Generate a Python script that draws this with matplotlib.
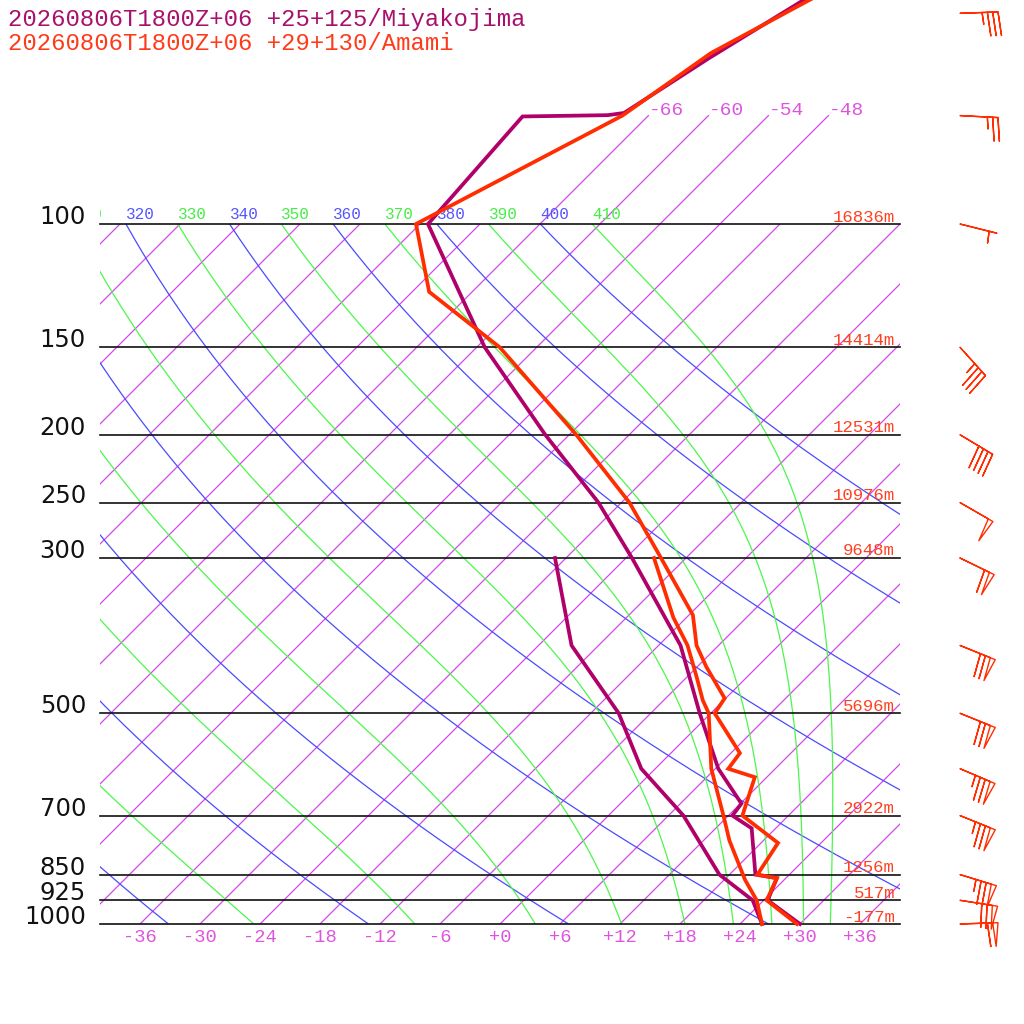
import numpy as np
import matplotlib
matplotlib.use('Agg')
from matplotlib import pyplot as plt
from matplotlib.patches import Rectangle
from matplotlib.transforms import Bbox, TransformedBbox

# --- sounding data (pressure hPa, temperature degC) ---
amami_p = [1000, 925, 860, 850, 766, 700, 617, 600, 570, 500, 476, 429, 400, 362,
           300, 250, 200, 150, 125, 100, 70, 57, 40]
amami_t = [29.7, 24.3, 23.1, 20.8, 19.7, 13.4, 10.8, 7.3, 6.9, 0.4, -0.1, -5.1, -8.2, -11.6,
           -20.5, -29.2, -41.3, -57.7, -70.3, -78.4, -68.6, -66.0, -56.8]
amami_td_p = [1000, 925, 865, 760, 700, 600, 500, 479, 443, 400, 365, 300]
amami_td = [26.2, 23.3, 20.1, 14.6, 11.5, 5.6, -0.2, -2.1, -5.1, -9.1, -13.3, -21.2]

miyako_p = [1000, 925, 860, 850, 730, 700, 673, 600, 500, 400, 300, 250, 200, 150,
            100, 70.2, 69.9, 69.4, 58, 40]
miyako_t = [30.0, 24.4, 23.1, 20.6, 15.6, 12.4, 12.1, 6.3, -1.1, -9.8, -23.4, -32.3, -44.4, -59.2,
            -77.2, -78.5, -70.1, -68.7, -65.7, -58.6]
miyako_td_p = [1000, 925, 850, 700, 600, 500, 400, 300]
miyako_td = [26.2, 22.9, 17.0, 7.5, -1.4, -9.2, -20.7, -31.1]

# wind (Amami)
barb_p = [50, 70, 100, 150, 200, 250, 300, 400, 500, 600, 700, 850, 925, 1000]
barb_dir = [88, 93, 104, 138, 121, 120, 116, 112, 112, 113, 112, 107, 99, 88]
barb_kt = [35, 25, 5, 35, 40, 50, 60, 70, 70, 75, 75, 75, 70, 60]

# standard levels and heights
levels = [100, 150, 200, 250, 300, 500, 700, 850, 925, 1000]
heights = ['16836m', '14414m', '12531m', '10976m', '9648m', '5696m', '2922m', '1256m', '517m', '-177m']

titles = ['20260806T1800Z+06 +25+125/Miyakojima', '20260806T1800Z+06 +29+130/Amami']

MIYAKO = '#b0006a'
AMAMI = '#ff2d00'
PURPLE = '#d248e8'
BLUE = '#4b4bff'
GREEN = '#4cf64c'
SKEW = 30.4
KAPPA = 0.2857
RD, CP, LV, EPS = 287.04, 1005.7, 2.501e6, 0.622
MONO = 'Liberation Mono'


def yy(p):
    return np.log(1000.0 / np.asarray(p, dtype=float))


def xx(t, p):
    return np.asarray(t, dtype=float) + SKEW * yy(p)


def moist_adiabat(theta, pgrid):
    # pseudo-adiabat integrated downward from 100 hPa
    def f(T, p):
        es = 6.112 * np.exp(17.67 * (T - 273.15) / (T - 29.65))
        rs = EPS * es / (p - es)
        return (RD * T + LV * rs) / (CP + LV * LV * rs * EPS / (RD * T * T))
    T = theta * (pgrid[0] / 1000.0) ** KAPPA
    out = [T]
    for i in range(len(pgrid) - 1):
        p0, p1 = pgrid[i], pgrid[i + 1]
        h = np.log(p1) - np.log(p0)
        pm = np.exp(np.log(p0) + h / 2)
        k1 = f(T, p0)
        k2 = f(T + h * k1 / 2, pm)
        k3 = f(T + h * k2 / 2, pm)
        k4 = f(T + h * k3, p1)
        T = T + h * (k1 + 2 * k2 + 2 * k3 + k4) / 6
        out.append(T)
    return np.array(out) - 273.15


fig = plt.figure(figsize=(10.24, 10.24), dpi=100)
ax = fig.add_axes([0, 0, 1, 1])
ax.set_xlim(-50, 52.4)
ax.set_ylim(-100 / 304, 924 / 304)
ax.axis('off')

clip = Rectangle((-40, 0), 80, np.log(10), transform=ax.transData)
tclip = TransformedBbox(Bbox([[-40, -1], [40, 4]]), ax.transData)

pgrid = np.logspace(2, 3, 300)

# isotherms
for t in range(-108, 37, 6):
    ln, = ax.plot(xx([t, t], [1000, 100]), yy([1000, 100]), color=PURPLE, lw=0.9, zorder=1)
    ln.set_clip_path(clip)
for t in [-66, -60, -54, -48]:
    ax.plot(xx([t, t], [100, 70]), yy([100, 70]), color=PURPLE, lw=0.9, zorder=1)
    ax.text(xx(t, 70), yy(70) + 1 / 304, '%d' % t, color='#dd55dd', fontsize=14,
            family=MONO, ha='left', va='baseline')
for t in range(-36, 37, 6):
    ax.text(t, -18 / 304, '%+d' % t if t != 0 else '+0', color='#dd55dd', fontsize=13.5,
            family=MONO, ha='center', va='baseline')

# dry adiabats (blue) and moist adiabats (green)
for th in range(200, 401, 20):
    tt = th * (pgrid / 1000.0) ** KAPPA - 273.15
    ln, = ax.plot(xx(tt, pgrid), yy(pgrid), color=BLUE, lw=0.9, zorder=1)
    ln.set_clip_path(clip)
for th in range(250, 411, 20):
    tt = moist_adiabat(th, pgrid)
    ln, = ax.plot(xx(tt, pgrid), yy(pgrid), color=GREEN, lw=0.9, zorder=1)
    ln.set_clip_path(clip)
# labels at 100 hPa (310 is cut at the left edge of the diagram)
for th in range(310, 411, 10):
    col = '#5555ff' if th % 20 == 0 else '#44ee44'
    t100 = th * 0.1 ** KAPPA - 273.15
    txt = ax.text(xx(t100, 100), yy(100) + 5.5 / 304, str(th), color=col, fontsize=11.5,
                  family=MONO, ha='left', va='baseline', clip_on=True)
    txt.set_clip_box(tclip)

# pressure levels
for p, h in zip(levels, heights):
    ax.plot([-40, 40], [yy(p), yy(p)], color='#111111', lw=1.2, zorder=2)
    ax.text(-41.4, yy(p), str(p), fontsize=17.5, family='DejaVu Sans', color='#111111',
            ha='right', va='baseline')
    ax.text(39.5, yy(p) + 2.5 / 304, h, fontsize=12.5, family=MONO, color='#ff4020',
            ha='right', va='baseline')

# soundings
ax.plot(xx(miyako_t, miyako_p), yy(miyako_p), color=MIYAKO, lw=2.7, zorder=4, solid_joinstyle='miter')
ax.plot(xx(miyako_td, miyako_td_p), yy(miyako_td_p), color=MIYAKO, lw=2.7, zorder=4, solid_joinstyle='miter')
ax.plot(xx(amami_t, amami_p), yy(amami_p), color=AMAMI, lw=2.7, zorder=5, solid_joinstyle='miter')
ax.plot(xx(amami_td, amami_td_p), yy(amami_td_p), color=AMAMI, lw=2.7, zorder=5, solid_joinstyle='miter')

# wind barbs
d = np.radians(barb_dir)
s = np.array(barb_kt, dtype=float)
u = -s * np.sin(d)
v = -s * np.cos(d)
ax.barbs(np.full(len(barb_p), 46.0), yy(barb_p), u, v, length=7.4, pivot='tip',
         barbcolor=AMAMI, flagcolor='none', linewidth=1.0, zorder=6,
         sizes=dict(spacing=0.14, height=0.62, width=0.14))

# titles
ax.text(-49.2, (924 - 26) / 304, titles[0], color='#a8106c', fontsize=17.2, family=MONO,
        ha='left', va='baseline')
ax.text(-49.2, (924 - 50) / 304, titles[1], color='#ff3a1a', fontsize=17.2, family=MONO,
        ha='left', va='baseline')

fig.savefig('out.png', dpi=100, facecolor='white')
